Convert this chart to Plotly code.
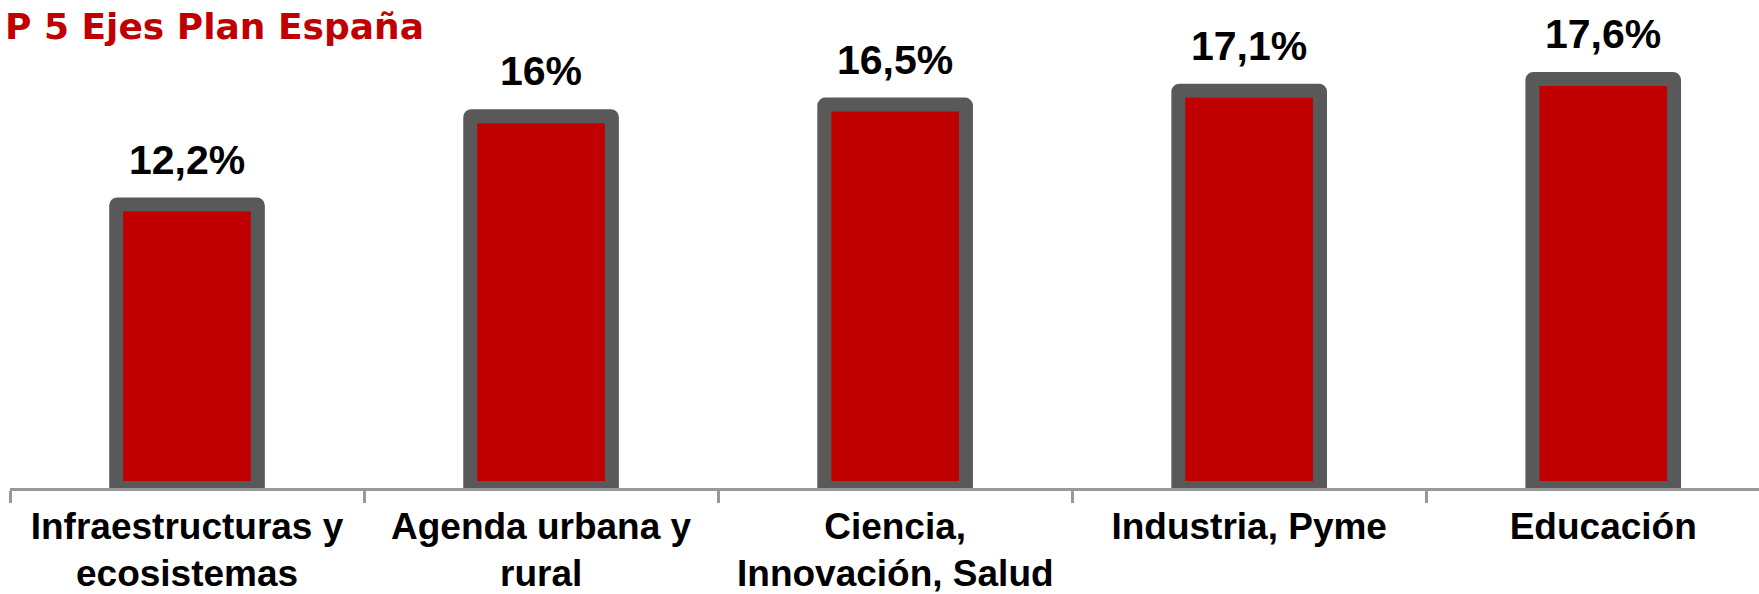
import plotly.graph_objects as go

categories_line1 = ["Infraestructuras y", "Agenda urbana y", "Ciencia,", "Industria, Pyme", "Educación"]
categories_line2 = ["ecosistemas", "rural", "Innovación, Salud", "", ""]
values = [12.2, 16.0, 16.5, 17.1, 17.6]
value_labels = ["12,2%", "16%", "16,5%", "17,1%", "17,6%"]
title_text = "P 5 Ejes Plan España"

RED = "#C00000"
BORDER = "#595959"
AXIS = "#999999"
FONT = "Liberation Sans, Arial, sans-serif"

fig = go.Figure()
fig.add_trace(go.Bar(
    x=categories_line1, y=values, width=0.4,
    marker=dict(color=RED, line=dict(color=BORDER, width=14), cornerradius=1),
    hoverinfo="skip",
))

for c, v, t in zip(categories_line1, values, value_labels):
    fig.add_annotation(x=c, y=v, text=f"<b>{t}</b>", showarrow=False,
                       xanchor="center", yanchor="bottom", yshift=20,
                       font=dict(family=FONT, size=41, color="black"))

# second line of the category labels (tighter line spacing than Plotly's default)
for c, l2 in zip(categories_line1, categories_line2):
    if l2:
        fig.add_annotation(x=c, y=0, yref="paper", text=f"<b>{l2}</b>", showarrow=False,
                           xanchor="center", yanchor="top", yshift=-63,
                           font=dict(family=FONT, size=37, color="black"))

fig.add_annotation(x=0, y=1, xref="paper", yref="paper", text=f"<b>{title_text}</b>",
                   showarrow=False, xanchor="left", yanchor="top", xshift=-7, yshift=-4,
                   font=dict(family="DejaVu Sans, sans-serif", size=36, color=RED))

fig.update_layout(
    width=1759, height=594,
    margin=dict(l=10, r=0, t=0, b=106, autoexpand=False),
    paper_bgcolor="white", plot_bgcolor="white",
    showlegend=False,
)
fig.update_xaxes(
    type="category", categoryorder="array", categoryarray=categories_line1,
    ticktext=[f"<b>{c}</b>" for c in categories_line1], tickvals=categories_line1,
    range=[-0.5, 4.44], tickson="boundaries", automargin=False,
    showline=True, linecolor=AXIS, linewidth=3,
    ticks="outside", ticklen=12, tickwidth=3, tickcolor=AXIS,
    tickfont=dict(family=FONT, size=37, color="black"),
    ticklabelstandoff=4,
    showgrid=False, zeroline=False, fixedrange=True,
)
fig.update_yaxes(range=[0, 21], visible=False, showgrid=False, zeroline=False,
                 fixedrange=True, automargin=False)

fig.write_html("out.html", config={"displayModeBar": False},
               post_script="document.body.style.margin='0';")
